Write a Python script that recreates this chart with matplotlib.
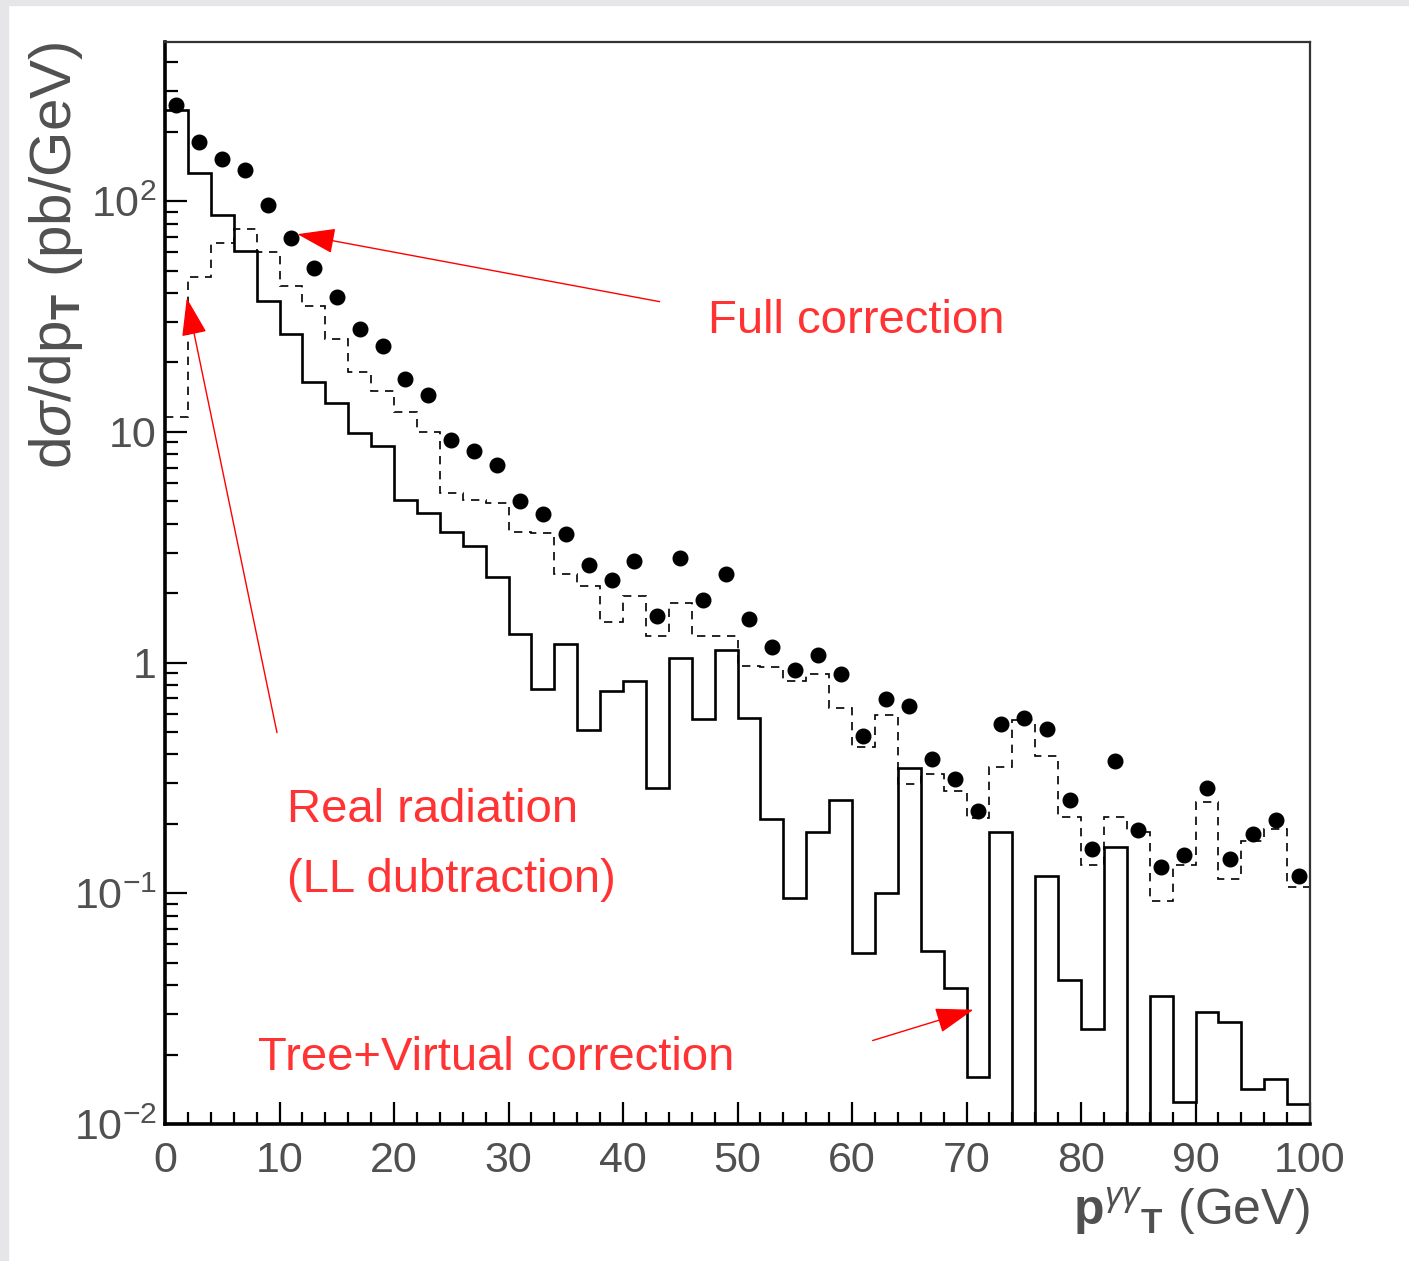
import numpy as np
import matplotlib.pyplot as plt
from matplotlib.patches import Rectangle
from matplotlib.ticker import FixedLocator, LogLocator, FixedFormatter, NullFormatter

plt.rcParams['font.family'] = ['Liberation Sans', 'DejaVu Sans']
plt.rcParams['mathtext.fontset'] = 'custom'
plt.rcParams['mathtext.rm'] = 'Liberation Sans'
plt.rcParams['mathtext.it'] = 'Liberation Sans:italic'
plt.rcParams['mathtext.bf'] = 'Liberation Sans:bold'

# p_T bins, 2 GeV wide
edges = np.arange(0, 102, 2)
centers = edges[:-1] + 1

# tree + virtual correction (solid histogram)
tree_virtual = [249, 132, 87, 61, 37, 26.7, 16.4, 13.3, 9.9, 8.65,
                5.05, 4.47, 3.7, 3.2, 2.35, 1.33, 0.77, 1.21, 0.51, 0.75,
                0.83, 0.285, 1.05, 0.57, 1.13, 0.575, 0.21, 0.095, 0.185, 0.253,
                0.055, 0.1, 0.35, 0.056, 0.039, 0.016, 0.185, 0, 0.119, 0.042,
                0.0257, 0.159, 0, 0.0358, 0.0125, 0.0305, 0.0278, 0.0142, 0.0156, 0.0122]

# real radiation, LL subtraction (dashed histogram)
real_rad = [11.6, 46.9, 65.9, 75.7, 60, 43, 35.3, 25.3, 18.2, 15.0,
            12.2, 10.0, 5.44, 5.05, 4.92, 3.68, 3.65, 2.42, 2.14, 1.50,
            1.95, 1.30, 1.81, 1.31, 1.30, 0.97, 0.955, 0.83, 0.896, 0.634,
            0.43, 0.595, 0.297, 0.328, 0.277, 0.212, 0.352, 0.562, 0.395, 0.214,
            0.133, 0.214, 0.185, 0.093, 0.133, 0.25, 0.115, 0.168, 0.19, 0.107]

# full correction (points at bin centres)
full_corr = [260, 180, 153, 137, 96.6, 69.3, 51.4, 38.4, 27.9, 23.5,
             16.9, 14.5, 9.2, 8.24, 7.19, 5.0, 4.42, 3.62, 2.66, 2.27,
             2.77, 1.59, 2.84, 1.875, 2.43, 1.55, 1.17, 0.93, 1.08, 0.896,
             0.483, 0.696, 0.649, 0.384, 0.314, 0.227, 0.54, 0.576, 0.513, 0.253,
             0.156, 0.376, 0.188, 0.130, 0.146, 0.285, 0.141, 0.181, 0.207, 0.119]

fig = plt.figure(figsize=(14.09, 12.61), dpi=100)
W, H = 1409, 1261

# grey strip along top and left edge
fig.patches.append(Rectangle((0, 1 - 5 / H), 1, 5 / H, transform=fig.transFigure,
                             color='#e6e6e8', zorder=0))
fig.patches.append(Rectangle((0, 0), 8 / W, 1, transform=fig.transFigure,
                             color='#e6e6e8', zorder=0))

ax = fig.add_axes([165 / W, 1 - 1124 / H, (1310 - 165) / W, (1124 - 42) / H])
ax.set_yscale('log')

ax.stairs(tree_virtual, edges, baseline=None, color='black', lw=1.9)
ax.stairs(real_rad, edges, baseline=None, color='black', lw=1.2,
          linestyle=(0, (5, 4)))
ax.plot(centers, full_corr, 'o', color='black', markersize=10.5)

ax.set_xlim(0, 100)
ax.set_ylim(0.01, 490)

# spines
for side in ['left', 'bottom']:
    ax.spines[side].set_linewidth(2.6)
for side in ['top', 'right']:
    ax.spines[side].set_linewidth(1.6)
    ax.spines[side].set_color('#333333')

# ticks
ax.xaxis.set_major_locator(FixedLocator(np.arange(0, 101, 10)))
ax.xaxis.set_minor_locator(FixedLocator(np.arange(0, 101, 2)))
ax.yaxis.set_major_locator(FixedLocator([0.01, 0.1, 1, 10, 100]))
ax.yaxis.set_minor_locator(LogLocator(base=10, subs=np.arange(2, 10)))
ax.yaxis.set_major_formatter(FixedFormatter(['$10^{-2}$', '$10^{-1}$', '1', '10', '$10^{2}$']))
ax.yaxis.set_minor_formatter(NullFormatter())

ax.tick_params(axis='both', which='major', direction='in', length=16, width=1.6,
               labelsize=31, labelcolor='#505050', color='black')
ax.tick_params(axis='both', which='minor', direction='in', length=9, width=1.6,
               color='black')
ax.tick_params(axis='x', which='major', pad=12)
ax.tick_params(axis='y', which='major', pad=6)
ax.tick_params(top=False, right=False, which='both')

ax.set_xlabel(r'$\mathbf{p}^{\gamma\gamma}{}_{\mathbf{T}}$ (GeV)', fontsize=36,
              color='#505050', loc='right')
ax.xaxis.set_label_coords(1.0, -0.056)
ax.set_ylabel(r'd$\sigma$/dp$_{\mathbf{T}}$ (pb/GeV)', fontsize=42,
              color='#505050', loc='top')
ax.yaxis.set_label_coords(-0.07, 1.0)

# annotations
red_txt = '#ff3333'
fig.text(708 / W, 1 - 333 / H, 'Full correction', fontsize=34, color=red_txt,
         va='baseline')
fig.text(287 / W, 1 - 822 / H, 'Real radiation', fontsize=34, color=red_txt,
         va='baseline')
fig.text(287 / W, 1 - 892 / H, '(LL dubtraction)', fontsize=34, color=red_txt,
         va='baseline')
fig.text(258 / W, 1 - 1070 / H, 'Tree+Virtual correction', fontsize=34,
         color=red_txt, va='baseline')

arrow = dict(arrowstyle='-|>,head_length=0.6,head_width=0.2', color='red',
             lw=1.0, mutation_scale=40, shrinkA=0, shrinkB=0)
ax.annotate('', xy=(11.56, 72), xytext=(43.2, 36.7), arrowprops=arrow)
ax.annotate('', xy=(1.9, 38), xytext=(9.78, 0.497), arrowprops=arrow)
ax.annotate('', xy=(70.6, 0.0313), xytext=(61.8, 0.023), arrowprops=arrow)

plt.savefig('out.png', dpi=100, facecolor='white')
